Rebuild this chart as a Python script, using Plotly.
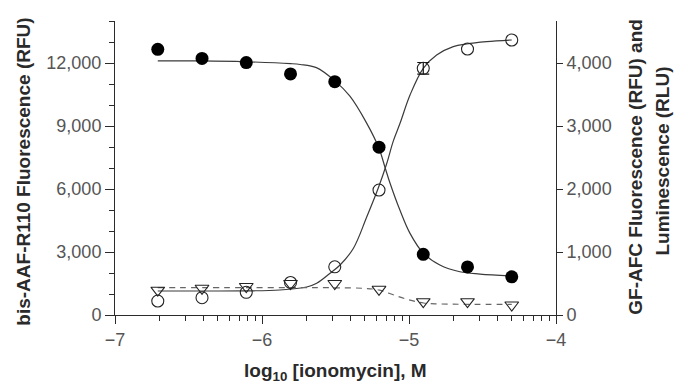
import math
import plotly.graph_objects as go

# ---- data ----
log_conc = [-6.709, -6.408, -6.107, -5.806, -5.505, -5.204, -4.903, -4.602, -4.301]
bis_aaf_r110 = [12650, 12220, 12020, 11480, 11110, 7990, 2890, 2290, 1820]     # filled circles, left axis (RFU)
gf_afc = [222, 275, 360, 516, 765, 1984, 3916, 4222, 4365]                       # open circles, right axis (RFU)
gf_afc_err = [None, None, None, None, None, None, 92, None, None]
luminescence = [394, 425, 452, 500, 500, 408, 211, 211, 159]                     # open triangles, right axis (RLU)

# fitted curves
bis_fit_x = [-6.709, -6.41, -6.11, -5.806, -5.74, -5.63, -5.504, -5.402, -5.289, -5.205,
             -5.164, -5.130, -5.062, -4.994, -4.903, -4.790, -4.654, -4.517, -4.301]
bis_fit_y = [12100, 12100, 12060, 11970, 11930, 11780, 11150, 10420, 9150, 7950,
             7050, 6300, 5000, 3900, 2950, 2380, 2060, 1950, 1860]

gf_fit_x = [-6.709, -6.42, -6.105, -5.878, -5.696, -5.628, -5.537, -5.469, -5.379, -5.287,
            -5.209, -5.152, -5.107, -5.061, -4.993, -4.903, -4.812, -4.699, -4.608, -4.472, -4.301]
gf_fit_y = [381, 381, 383, 397, 444, 503, 662, 794, 1056, 1560,
            2016, 2400, 2760, 3043, 3492, 3916, 4127, 4259, 4302, 4338, 4365]

lum_fit_x = [-6.709, -6.1, -5.5, -5.3, -5.2, -5.1, -5.0, -4.9, -4.8, -4.6, -4.301]
lum_fit_y = [435, 435, 432, 422, 395, 315, 240, 190, 176, 170, 168]

x_ticks = [-7, -6, -5, -4]
x_ticktext = ["\u22127", "\u22126", "\u22125", "\u22124"]
left_ticks = [0, 3000, 6000, 9000, 12000]
left_ticktext = ["0", "3,000", "6,000", "9,000", "12,000"]
right_ticks = [0, 1000, 2000, 3000, 4000]
right_ticktext = ["0", "1,000", "2,000", "3,000", "4,000"]

minor_x = [d + math.log10(k) for d in (-7, -6, -5) for k in range(2, 10)]

AX = "#2b2b2b"
TICKFONT = dict(family="Liberation Sans, Arial, sans-serif", size=18, color="#555555")
TITLEFONT = dict(family="Liberation Sans, Arial, sans-serif", size=19, color="#2a2a2a",
                 weight="bold")

fig = go.Figure()

fig.add_trace(go.Scatter(x=bis_fit_x, y=bis_fit_y, mode="lines",
                         line=dict(color="#3a3a3a", width=1.2, shape="spline"), yaxis="y"))
fig.add_trace(go.Scatter(x=gf_fit_x, y=gf_fit_y, mode="lines",
                         line=dict(color="#3a3a3a", width=1.2, shape="spline"), yaxis="y2"))
fig.add_trace(go.Scatter(x=lum_fit_x, y=lum_fit_y, mode="lines",
                         line=dict(color="#666666", width=1.2, shape="spline", dash="6px,5px"), yaxis="y2"))

# error bar on one GF-AFC point
err_x = [x for x, e in zip(log_conc, gf_afc_err) if e is not None]
err_y = [y for y, e in zip(gf_afc, gf_afc_err) if e is not None]
err_v = [e for e in gf_afc_err if e is not None]
fig.add_trace(go.Scatter(x=err_x, y=err_y, mode="markers", marker=dict(size=1, opacity=0),
                         error_y=dict(type="data", array=err_v, visible=True, color="#111111",
                                      thickness=1.2, width=6), yaxis="y2"))

fig.add_trace(go.Scatter(x=log_conc, y=luminescence, mode="markers",
                         marker=dict(symbol="triangle-down-open", size=12, color="#222222",
                                     line=dict(width=1.1, color="#222222")), yaxis="y2"))
fig.add_trace(go.Scatter(x=log_conc, y=gf_afc, mode="markers",
                         marker=dict(symbol="circle-open", size=12, color="#222222",
                                     line=dict(width=1.1, color="#222222")), yaxis="y2"))
fig.add_trace(go.Scatter(x=log_conc, y=bis_aaf_r110, mode="markers",
                         marker=dict(symbol="circle", size=13, color="#000000"), yaxis="y"))

L, R, T, B = 115, 125, 21, 73
W, H = 681, 388
pw, ph = W - L - R, H - T - B


def px(xp):
    return (xp - L) / pw


def py(yp):
    return (H - B - yp) / ph


fig.update_layout(
    width=W, height=H, margin=dict(l=L, r=R, t=T, b=B),
    paper_bgcolor="white", plot_bgcolor="white", showlegend=False,
    xaxis=dict(range=[-7, -4], tickvals=x_ticks, ticktext=x_ticktext, ticks="outside",
               ticklen=8, tickwidth=1, tickcolor=AX, showline=True, linecolor=AX, linewidth=1,
               showgrid=False, zeroline=False, tickfont=TICKFONT,
               minor=dict(tickvals=minor_x, ticks="outside", ticklen=5, tickwidth=1,
                          tickcolor=AX, showgrid=False)),
    yaxis=dict(range=[0, 14000], tickvals=left_ticks, ticktext=left_ticktext, ticks="outside",
               ticklen=9, tickwidth=1, tickcolor=AX, showline=True, linecolor=AX, linewidth=1,
               showgrid=False, zeroline=False, tickfont=TICKFONT,
               minor=dict(dtick=1000, ticks="outside", ticklen=5, tickwidth=1, tickcolor=AX,
                          showgrid=False)),
    yaxis2=dict(range=[0, 14000 / 3], tickvals=right_ticks, ticktext=right_ticktext,
                overlaying="y", side="right", ticks="outside", ticklen=6, tickwidth=1,
                tickcolor=AX, showline=True, linecolor=AX, linewidth=1, showgrid=False,
                zeroline=False, tickfont=TICKFONT),
    annotations=[
        dict(text="bis-AAF-R110 Fluorescence (RFU)", xref="paper", yref="paper",
             x=px(22.7), y=py(172), xanchor="center", yanchor="middle", textangle=-90,
             showarrow=False, font=TITLEFONT),
        dict(text="GF-AFC Fluorescence (RFU) and", xref="paper", yref="paper",
             x=px(636), y=py(166.7), xanchor="center", yanchor="middle", textangle=-90,
             showarrow=False, font=TITLEFONT),
        dict(text="Luminescence (RLU)", xref="paper", yref="paper",
             x=px(661.5), y=py(161), xanchor="center", yanchor="middle", textangle=-90,
             showarrow=False, font=TITLEFONT),
        dict(text="log<sub>10</sub> [ionomycin], M", xref="paper", yref="paper",
             x=px(335), y=py(372), xanchor="center", yanchor="middle",
             showarrow=False, font=TITLEFONT),
    ],
)

fig.write_html("out.html")
